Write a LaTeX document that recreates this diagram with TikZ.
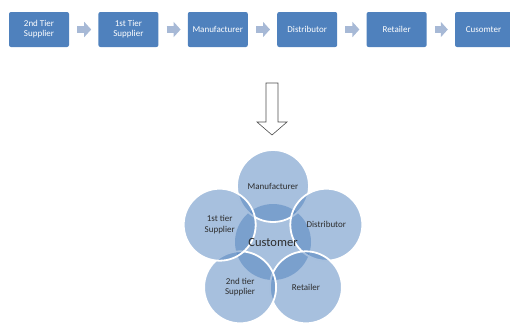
\documentclass[tikz,border=0pt]{standalone}
\usepackage{fontspec}
\setmainfont{Carlito}
\usetikzlibrary{positioning, arrows.meta, calc}

\definecolor{stageblue}{RGB}{79,129,189}
\definecolor{chevgray}{RGB}{167,185,214}
\definecolor{labelgray}{RGB}{45,45,45}

\begin{document}
\begin{tikzpicture}[x=1pt,y=-1pt,
    stage/.style={fill=stageblue, text=white, rounded corners=2pt,
        minimum width=60pt, minimum height=35pt, inner sep=1pt,
        align=center, font=\fontsize{9}{10}\selectfont},
    flow/.style={-{Triangle[length=7pt,width=15pt]}, line width=7pt,
        chevgray, shorten <=8pt, shorten >=7pt},
    ring/.style={circle, fill=stageblue, fill opacity=0.5,
        draw=white, draw opacity=1, line width=1.8pt, minimum size=72pt,
        text opacity=1, text=labelgray, align=center,
        font=\fontsize{9}{10.5}\selectfont}]

    \useasboundingbox (0,0) rectangle (510,322);

    % Linear supply chain
    \node[stage] (s2) at (39,29.5) {2nd Tier\\Supplier};
    \node[stage, right=29pt of s2] (s1) {1st Tier\\Supplier};
    \node[stage, right=29pt of s1] (mf) {Manufacturer};
    \node[stage, right=29pt of mf] (ds) {Distributor};
    \node[stage, right=29pt of ds] (rt) {Retailer};
    \node[stage, right=28pt of rt, minimum width=57pt] (cu) {Cusomter};

    % Chevrons between the stages
    \draw[flow] (s2) -- (s1);
    \draw[flow] (s1) -- (mf);
    \draw[flow] (mf) -- (ds);
    \draw[flow] (ds) -- (rt);
    \draw[flow] (rt) -- (cu);

    % Hollow arrow down to the radial view
    \draw[line width=0.6pt, black!70]
        (266,83) -- (278,83) -- (278,122) -- (287,122) -- (272,135)
        -- (257,122) -- (266,122) -- cycle;

    % Hub circle, drawn first so the outer rims sit on top
    \node[circle, fill=stageblue, fill opacity=0.5, minimum size=76pt] (hub) at (273,242) {};

    % Outer circles round the hub
    \node[ring] (rmf) at (273,186) {Manufacturer};
    \node[ring] (rds) at (326.3,224.7) {Distributor};
    \node[ring] (rrt) at (305.9,287.3) {Retailer};
    \node[ring] (rs2) at (240.1,287.3) {2nd tier\\Supplier};
    \node[ring] (rs1) at (219.7,224.7) {1st tier\\Supplier};

    % Hub label on top of everything
    \node[text=labelgray, font=\fontsize{12.5}{14}\selectfont] (hubtext) at (hub) {Customer};
\end{tikzpicture}
\end{document}
